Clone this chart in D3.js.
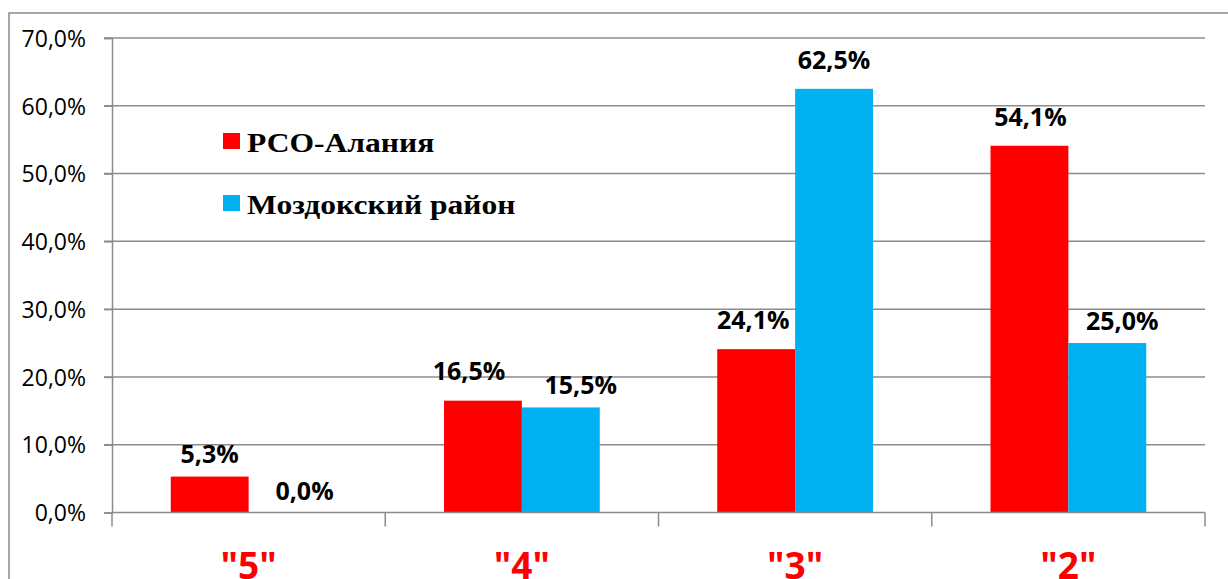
<!DOCTYPE html>
<html>
<head>
<meta charset="utf-8">
<script src="https://cdn.jsdelivr.net/npm/d3@7"></script>
<style>
  body { margin: 0; background: #fff; }
  svg { display: block; }
</style>
</head>
<body>
<script>
// grades and shares of pupils
var categories = ['"5"', '"4"', '"3"', '"2"'];
var seriesNames = ['РСО-Алания', 'Моздокский район'];
var rsoValues = [5.3, 16.5, 24.1, 54.1];
var mozdokValues = [0.0, 15.5, 62.5, 25.0];
var yTicks = [0, 10, 20, 30, 40, 50, 60, 70];

var colors = ['#ff0000', '#00b0f0'];
// small hand nudges of the value labels, as in the original
var labelNudgeX = [[0, 17], [-14, 20], [-3, 0], [1, 15]];
var labelGap = [[14, 13], [21, 13], [20, 20], [20, 13]];

var width = 1228, height = 579;
var margin = { left: 112, right: 23, top: 38, bottom: 66 };

var svg = d3.select('body').append('svg')
    .attr('width', width)
    .attr('height', height);

// outer chart frame
svg.append('rect')
    .attr('x', 9).attr('y', 13)
    .attr('width', width + 20).attr('height', height + 20)
    .attr('fill', 'none')
    .attr('stroke', '#8a8a8a')
    .attr('stroke-width', 1.5);

var y = d3.scaleLinear()
    .domain([0, 70])
    .range([height - margin.bottom - 0.5, margin.top]);

var x0 = d3.scaleBand()
    .domain(categories)
    .range([margin.left, width - margin.right])
    .paddingInner(0.43)
    .paddingOuter(0.215);

var x1 = d3.scaleBand()
    .domain([0, 1])
    .range([0, x0.bandwidth()]);

// gridlines
svg.append('g')
    .selectAll('line')
    .data(yTicks.slice(1))
    .enter().append('line')
    .attr('x1', margin.left - 8)
    .attr('x2', width - margin.right)
    .attr('y1', function(d) { return y(d); })
    .attr('y2', function(d) { return y(d); })
    .attr('stroke', '#8c8c8c')
    .attr('stroke-width', 1.5);

// y axis
var yAxis = svg.append('g')
    .attr('transform', 'translate(' + margin.left + ',0)')
    .call(d3.axisLeft(y).tickValues(yTicks).tickSize(8).tickPadding(18)
        .tickFormat(function(d) { return d3.format('.1f')(d).replace('.', ',') + '%'; }));
yAxis.select('.domain').attr('stroke', '#8c8c8c').attr('stroke-width', 1.5);
yAxis.selectAll('.tick line').attr('stroke', '#8c8c8c').attr('stroke-width', 1.5);
yAxis.selectAll('.tick text')
    .attr('fill', '#000')
    .attr('dy', '0.36em')
    .style('font-family', '"Open Sans", sans-serif')
    .style('font-size', '23px');

// bars
var groups = svg.append('g')
    .selectAll('g')
    .data(categories)
    .enter().append('g')
    .attr('transform', function(d) { return 'translate(' + x0(d) + ',0)'; });

groups.selectAll('rect')
    .data(function(d, i) { return [rsoValues[i], mozdokValues[i]]; })
    .enter().append('rect')
    .attr('x', function(d, j) { return x1(j); })
    .attr('width', x1.bandwidth())
    .attr('y', function(d) { return y(d); })
    .attr('height', function(d) { return y(0) - y(d); })
    .attr('fill', function(d, j) { return colors[j]; });

// value labels
groups.each(function(c, i) {
    d3.select(this).selectAll('text')
        .data([rsoValues[i], mozdokValues[i]])
        .enter().append('text')
        .attr('x', function(d, j) { return x1(j) + x1.bandwidth() / 2 + labelNudgeX[i][j]; })
        .attr('y', function(d, j) { return y(d) - labelGap[i][j]; })
        .attr('text-anchor', 'middle')
        .style('font-family', '"Open Sans", sans-serif')
        .style('font-weight', 'bold')
        .style('font-size', '25px')
        .text(function(d) { return d3.format('.1f')(d).replace('.', ',') + '%'; });
});

// x axis
var xAxisY = y(0);
svg.append('line')
    .attr('x1', margin.left).attr('x2', width - margin.right)
    .attr('y1', xAxisY).attr('y2', xAxisY)
    .attr('stroke', '#8c8c8c').attr('stroke-width', 1.5);

var step = x0.step();
svg.append('g')
    .selectAll('line')
    .data(d3.range(categories.length + 1))
    .enter().append('line')
    .attr('x1', function(d) { return margin.left + d * step; })
    .attr('x2', function(d) { return margin.left + d * step; })
    .attr('y1', xAxisY)
    .attr('y2', xAxisY + 14)
    .attr('stroke', '#8c8c8c').attr('stroke-width', 1.5);

// category labels, cut by the bottom edge as in the original
svg.append('g')
    .selectAll('text')
    .data(categories)
    .enter().append('text')
    .attr('x', function(d) { return x0(d) + x0.bandwidth() / 2; })
    .attr('y', 579)
    .attr('text-anchor', 'middle')
    .attr('fill', '#ff0000')
    .style('font-family', '"Open Sans", sans-serif')
    .style('font-weight', 'bold')
    .style('font-size', '37px')
    .text(function(d) { return d; });

// legend
var legend = svg.append('g')
    .selectAll('g')
    .data(seriesNames)
    .enter().append('g')
    .attr('transform', function(d, i) { return 'translate(223,' + (133 + i * 62) + ')'; });

legend.append('rect')
    .attr('width', 17).attr('height', 16)
    .attr('fill', function(d, i) { return colors[i]; });

legend.append('text')
    .attr('transform', 'translate(24,19) scale(1.17,1)')
    .style('font-family', '"Liberation Serif", "Times New Roman", serif')
    .style('font-weight', 'bold')
    .style('font-size', '27px')
    .text(function(d) { return d; });
</script>
</body>
</html>
